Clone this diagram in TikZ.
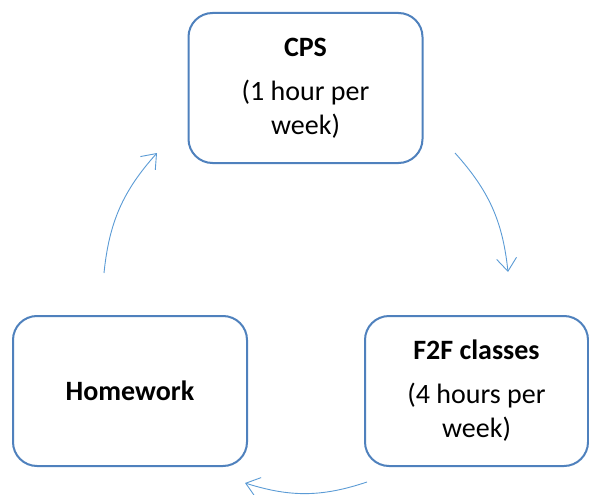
\documentclass[tikz,border=0pt]{standalone}
\usepackage{fontspec}
\setmainfont{Carlito}
\usetikzlibrary{arrows.meta,positioning,calc}
\definecolor{cyblue}{HTML}{4F81BD}
\definecolor{cyarrow}{HTML}{5B9BD5}

\begin{document}
\begin{tikzpicture}[
  x=1pt, y=-1pt,
  box/.style={
    draw=cyblue, line width=2pt, rounded corners=24pt,
    fill=white, text=black, align=center, inner sep=0pt,
    minimum width=234pt, minimum height=150pt,
    font=\fontsize{28}{34}\selectfont
  },
  cyc/.style={-{Straight Barb[length=13pt,width=20pt]}, cyarrow, line width=0.9pt},
]
  \useasboundingbox (0,0) rectangle (589,495);

  % The three stages
  \node[box] (cps) at (305.5, 88) {\textbf{CPS}\\[10pt](1 hour per\\week)};
  \node[box, minimum width=223pt] (f2f) at (476.5, 391) {\textbf{F2F classes}\\[10pt](4 hours per\\week)};
  \node[box] (hw) at (130, 391) {\textbf{Homework}};

  % Ends of the cycle arrows
  \coordinate (c1a) at (455, 153);
  \coordinate (c1b) at (508, 272);
  \coordinate (c2a) at (367, 482);
  \coordinate (c2b) at (245, 483);
  \coordinate (c3a) at (104, 273);
  \coordinate (c3b) at (157, 153);

  % Cycle arrows (clockwise)
  \draw[cyc] (c1a) to[bend left=18] (c1b);
  \draw[cyc] (c2a) to[bend left=18] (c2b);
  \draw[cyc] (c3a) to[bend left=18] (c3b);

\end{tikzpicture}
\end{document}
